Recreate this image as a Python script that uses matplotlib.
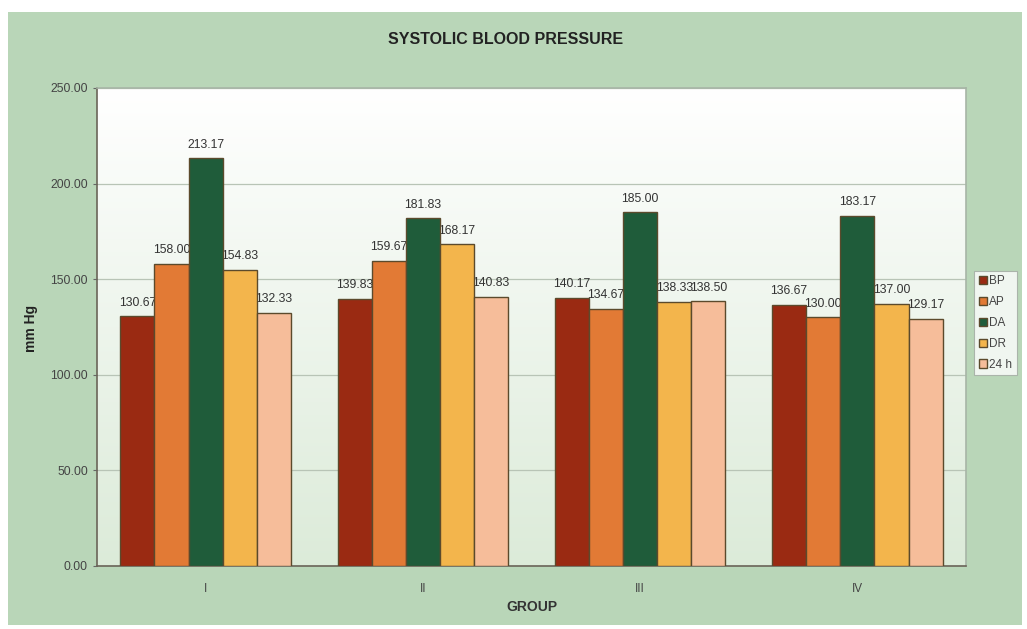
import numpy as np
import matplotlib
matplotlib.use("Agg")
import matplotlib.pyplot as plt
from matplotlib.patches import Rectangle
from matplotlib.colors import LinearSegmentedColormap

plt.rcParams['font.family'] = ['Liberation Sans', 'DejaVu Sans']

groups = ["I", "II", "III", "IV"]
series = ["BP", "AP", "DA", "DR", "24 h"]
bp = [130.67, 139.83, 140.17, 136.67]
ap = [158.00, 159.67, 134.67, 130.00]
da = [213.17, 181.83, 185.00, 183.17]
dr = [154.83, 168.17, 138.33, 137.00]
h24 = [132.33, 140.83, 138.50, 129.17]
values = [bp, ap, da, dr, h24]
colors = ["#9a2a12", "#e27a35", "#1f5c3a", "#f3b54c", "#f6bd9a"]

fig = plt.figure(figsize=(10.27, 6.29), dpi=100)
fig.patch.set_facecolor("white")

# green chart panel behind everything
panel = Rectangle((8 / 1027, 4 / 629), 1014 / 1027, 613 / 629, transform=fig.transFigure,
                  facecolor="#b9d6b8", edgecolor="none", zorder=-5)
fig.add_artist(panel)

ax = fig.add_axes([97 / 1027, 1 - 566 / 629, 869 / 1027, 478 / 629])
ax.set_facecolor("none")

# soft vertical gradient in the plot area
grad = LinearSegmentedColormap.from_list("pa", ["#dcebd9", "#ffffff"])
ax.imshow(np.linspace(0, 1, 256).reshape(-1, 1), extent=[-0.5, 3.5, 0, 250],
          origin="lower", aspect="auto", cmap=grad, zorder=0)

ax.set_xlim(-0.5, 3.5)
ax.set_ylim(0, 250)
ax.set_yticks(np.arange(0, 251, 50))
ax.yaxis.set_major_formatter(matplotlib.ticker.FormatStrFormatter("%.2f"))
ax.grid(axis="y", color="#b8c4b6", linewidth=0.9, zorder=1)

x = np.arange(len(groups))
width = 0.157
offsets = (np.arange(len(series)) - 2) * width
for vals, off, col, name in zip(values, offsets, colors, series):
    ax.bar(x + off, vals, width, color=col, edgecolor="#5b4a2c", linewidth=1.0,
           label=name, zorder=3)
    for xi, v in zip(x + off, vals):
        ax.text(xi, v + 4, f"{v:.2f}", ha="center", va="bottom", fontsize=8.8,
                color="#333333", zorder=2)

ax.set_xticks(x)
ax.set_xticklabels(groups, fontsize=8.5, color="#444444")
ax.tick_params(axis="x", length=0, pad=12)
ax.tick_params(axis="y", labelsize=8.8, labelcolor="#444444", length=3, color="#666666")

for s in ["left", "bottom"]:
    ax.spines[s].set_color("#6a6458")
    ax.spines[s].set_linewidth(1.2)
for s in ["top", "right"]:
    ax.spines[s].set_color("#a7b5a6")
    ax.spines[s].set_linewidth(1.2)

fig.text(506 / 1027, 1 - 40 / 629, "SYSTOLIC BLOOD PRESSURE", ha="center", va="center",
         fontsize=11.5, fontweight="bold", color="#222222")
fig.text(31 / 1027, 1 - 328 / 629, "mm Hg", rotation=90, ha="center", va="center",
         fontsize=10, fontweight="bold", color="#222222")
fig.text(532 / 1027, 1 - 607 / 629, "GROUP", ha="center", va="center",
         fontsize=10, fontweight="bold", color="#333333")

leg = ax.legend(loc="center left", bbox_to_anchor=(974 / 1027, 1 - 323 / 629),
                bbox_transform=fig.transFigure, fontsize=8.5, frameon=True,
                fancybox=False, edgecolor="#a0a8a0", handlelength=0.7, handleheight=0.7,
                handletextpad=0.2, borderpad=0.4, labelspacing=0.75, borderaxespad=0)
leg.get_frame().set_linewidth(0.8)
for t in leg.get_texts():
    t.set_color("#444444")

fig.savefig("out.png", dpi=100, facecolor=fig.get_facecolor())
